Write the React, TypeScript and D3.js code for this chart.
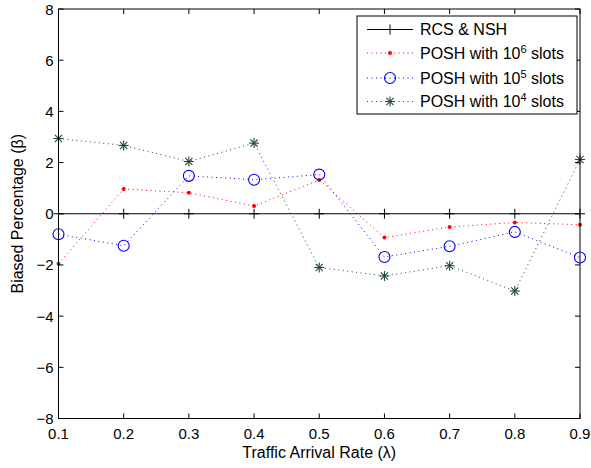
import React from "react";
import * as d3 from "d3";

const lambdas = [0.1, 0.2, 0.3, 0.4, 0.5, 0.6, 0.7, 0.8, 0.9];
const rcsNsh = [0, 0, 0, 0, 0, 0, 0, 0, 0];
const posh6 = [-1.95, 0.97, 0.82, 0.3, 1.32, -0.93, -0.52, -0.34, -0.43];
const posh5 = [-0.8, -1.25, 1.48, 1.33, 1.53, -1.69, -1.27, -0.71, -1.71];
const posh4 = [2.94, 2.67, 2.04, 2.76, -2.1, -2.43, -2.03, -3.02, 2.12];
const xTicks = [0.1, 0.2, 0.3, 0.4, 0.5, 0.6, 0.7, 0.8, 0.9];
const yTicks = [-8, -6, -4, -2, 0, 2, 4, 6, 8];

const W = 591, H = 468;
const L = 58.5, R = 580, T = 9, B = 418.5;
const FONT = "'Liberation Sans', Arial, sans-serif";
const GREEN = "#1f4a33";
const FS = 15;
const LFS = 16;

type Marker = "plus" | "dot" | "circle" | "star";

function MarkerShape({ kind, x, y, color }: { kind: Marker; x: number; y: number; color: string }) {
  if (kind === "plus") {
    return (
      <g stroke={color} strokeWidth={1}>
        <line x1={x - 5} x2={x + 5} y1={y} y2={y} />
        <line x1={x} x2={x} y1={y - 5} y2={y + 5} />
      </g>
    );
  }
  if (kind === "dot") return <circle cx={x} cy={y} r={2} fill={color} />;
  if (kind === "circle") return <circle cx={x} cy={y} r={5.5} fill="none" stroke={color} strokeWidth={1.1} />;
  const s = 5, d = 3.6;
  return (
    <g stroke={color} strokeWidth={1.1}>
      <line x1={x - s} x2={x + s} y1={y} y2={y} />
      <line x1={x} x2={x} y1={y - s} y2={y + s} />
      <line x1={x - d} x2={x + d} y1={y - d} y2={y + d} />
      <line x1={x - d} x2={x + d} y1={y + d} y2={y - d} />
    </g>
  );
}

export default function App() {
  const x = d3.scaleLinear().domain([0.1, 0.9]).range([L, R]);
  const y = d3.scaleLinear().domain([-8, 8]).range([B, T]);
  const line = d3
    .line<number>()
    .x((_, i) => x(lambdas[i]))
    .y((d) => y(d));

  const sup = (n: string) => (
    <>
      POSH with 10<tspan dy={-6} fontSize={11}>{n}</tspan>
      <tspan dy={6}> slots</tspan>
    </>
  );

  const series: { name: React.ReactNode; data: number[]; color: string; marker: Marker; dash: string }[] = [
    { name: "RCS & NSH", data: rcsNsh, color: "#000", marker: "plus", dash: "" },
    { name: sup("6"), data: posh6, color: "#ff0000", marker: "dot", dash: "1,3.5" },
    { name: sup("5"), data: posh5, color: "#0000ff", marker: "circle", dash: "1,3.5" },
    { name: sup("4"), data: posh4, color: GREEN, marker: "star", dash: "1,3.5" },
  ];

  const legY = [29.5, 53, 78, 101.5];

  return (
    <svg width={W} height={H} style={{ position: "absolute", left: 0, top: 0, background: "#fff" }} fontFamily={FONT}>
      <rect x={0} y={0} width={W} height={H} fill="#fff" />
      {series.map((s, si) => (
        <g key={si}>
          <path d={line(s.data) || ""} fill="none" stroke={s.color} strokeWidth={1} strokeDasharray={s.dash || undefined} />
          {s.data.map((v, i) => (
            <MarkerShape key={i} kind={s.marker} x={x(lambdas[i])} y={y(v)} color={s.color} />
          ))}
        </g>
      ))}
      <rect x={L} y={T} width={R - L} height={B - T} fill="none" stroke="#000" strokeWidth={1} />
      {xTicks.map((t) => (
        <g key={"x" + t}>
          <line x1={x(t)} x2={x(t)} y1={B} y2={B - 5} stroke="#000" />
          <line x1={x(t)} x2={x(t)} y1={T} y2={T + 5} stroke="#000" />
          <text x={x(t)} y={B + 20.5} textAnchor="middle" fontSize={FS} fill="#000">
            {t.toFixed(1)}
          </text>
        </g>
      ))}
      {yTicks.map((t) => (
        <g key={"y" + t}>
          <line x1={L} x2={L + 5} y1={y(t)} y2={y(t)} stroke="#000" />
          <line x1={R} x2={R - 5} y1={y(t)} y2={y(t)} stroke="#000" />
          <text x={L - 5} y={y(t) + 5.5} textAnchor="end" fontSize={FS} fill="#000">
            {t < 0 ? "\u2212" + Math.abs(t) : String(t)}
          </text>
        </g>
      ))}
      <text x={(L + R) / 2} y={458} textAnchor="middle" fontSize={LFS} fill="#000">
        Traffic Arrival Rate (λ)
      </text>
      <text transform={`translate(23,${(T + B) / 2}) rotate(-90)`} textAnchor="middle" fontSize={LFS} fill="#000">
        Biased Percentage (β)
      </text>
      <rect x={357} y={16} width={220} height={98} fill="#fff" stroke="#000" strokeWidth={1} />
      {series.map((s, i) => (
        <g key={"l" + i}>
          <line x1={367} x2={413} y1={legY[i]} y2={legY[i]} stroke={s.color} strokeWidth={1} strokeDasharray={s.dash || undefined} />
          <MarkerShape kind={s.marker} x={390} y={legY[i]} color={s.color} />
          <text x={420} y={legY[i] + 5.5} fontSize={LFS} fill="#000">
            {s.name}
          </text>
        </g>
      ))}
    </svg>
  );
}
